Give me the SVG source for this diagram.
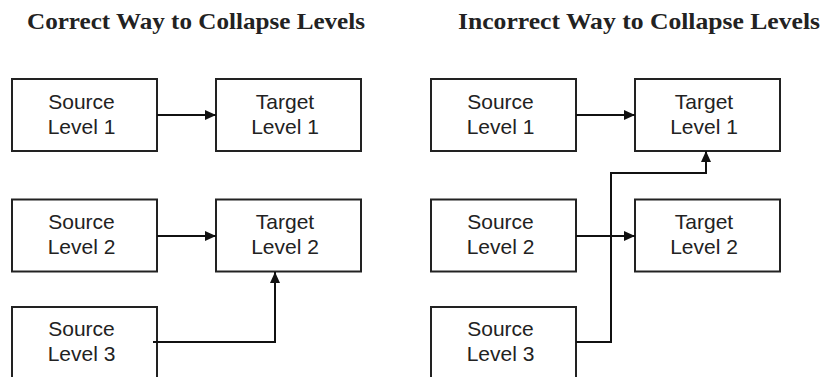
<svg xmlns="http://www.w3.org/2000/svg" width="826" height="377" viewBox="0 0 826 377">
<style>
.title{font-family:"Liberation Serif","Times New Roman",serif;font-weight:bold;font-size:23px;fill:#222}
.box{fill:#fff;stroke:#222;stroke-width:2}
.lbl{font-family:"Liberation Sans",Arial,sans-serif;font-size:21px;fill:#222;text-anchor:middle}
.conn{fill:none;stroke:#111;stroke-width:2}
</style>
<defs>
<marker id="arr" markerUnits="userSpaceOnUse" markerWidth="12" markerHeight="10" refX="11" refY="5" orient="auto">
<path d="M0,0 L11,5 L0,10 z" fill="#111"/>
</marker>
</defs>
<rect width="826" height="377" fill="#fff"/>
<text class="title" x="27" y="28.5" textLength="338" lengthAdjust="spacingAndGlyphs">Correct Way to Collapse Levels</text>
<text class="title" x="458" y="28.5" textLength="362" lengthAdjust="spacingAndGlyphs">Incorrect Way to Collapse Levels</text>

<g id="L-source1"><rect class="box" x="12" y="79" width="145" height="72"/><text class="lbl" x="81.5" y="108.5">Source</text><text class="lbl" x="81.5" y="133.5">Level 1</text></g>
<g id="L-target1"><rect class="box" x="216" y="79" width="145" height="72"/><text class="lbl" x="285" y="108.5">Target</text><text class="lbl" x="285" y="133.5">Level 1</text></g>
<g id="L-source2"><rect class="box" x="12" y="199.5" width="145" height="72"/><text class="lbl" x="81.5" y="228.5">Source</text><text class="lbl" x="81.5" y="253.5">Level 2</text></g>
<g id="L-target2"><rect class="box" x="216" y="199.5" width="145" height="72"/><text class="lbl" x="285" y="228.5">Target</text><text class="lbl" x="285" y="253.5">Level 2</text></g>
<g id="L-source3"><rect class="box" x="12" y="307" width="145" height="90"/><text class="lbl" x="81.5" y="335.5">Source</text><text class="lbl" x="81.5" y="360.5">Level 3</text></g>

<g id="R-source1"><rect class="box" x="431" y="79" width="145" height="72"/><text class="lbl" x="500.5" y="108.5">Source</text><text class="lbl" x="500.5" y="133.5">Level 1</text></g>
<g id="R-target1"><rect class="box" x="635" y="79" width="145" height="72"/><text class="lbl" x="704" y="108.5">Target</text><text class="lbl" x="704" y="133.5">Level 1</text></g>
<g id="R-source2"><rect class="box" x="431" y="199.5" width="145" height="72"/><text class="lbl" x="500.5" y="228.5">Source</text><text class="lbl" x="500.5" y="253.5">Level 2</text></g>
<g id="R-target2"><rect class="box" x="635" y="199.5" width="145" height="72"/><text class="lbl" x="704" y="228.5">Target</text><text class="lbl" x="704" y="253.5">Level 2</text></g>
<g id="R-source3"><rect class="box" x="431" y="307" width="145" height="90"/><text class="lbl" x="500.5" y="335.5">Source</text><text class="lbl" x="500.5" y="360.5">Level 3</text></g>

<g id="connectors">
<path class="conn" d="M157,115 H216" marker-end="url(#arr)"/>
<path class="conn" d="M157,236 H216" marker-end="url(#arr)"/>
<path class="conn" d="M153,342 H275 V272" marker-end="url(#arr)"/>
<path class="conn" d="M576,115 H635" marker-end="url(#arr)"/>
<path class="conn" d="M576,236 H635" marker-end="url(#arr)"/>
<path class="conn" d="M576,342 H611 V173 H706 V151" marker-end="url(#arr)"/>
</g>
</svg>
